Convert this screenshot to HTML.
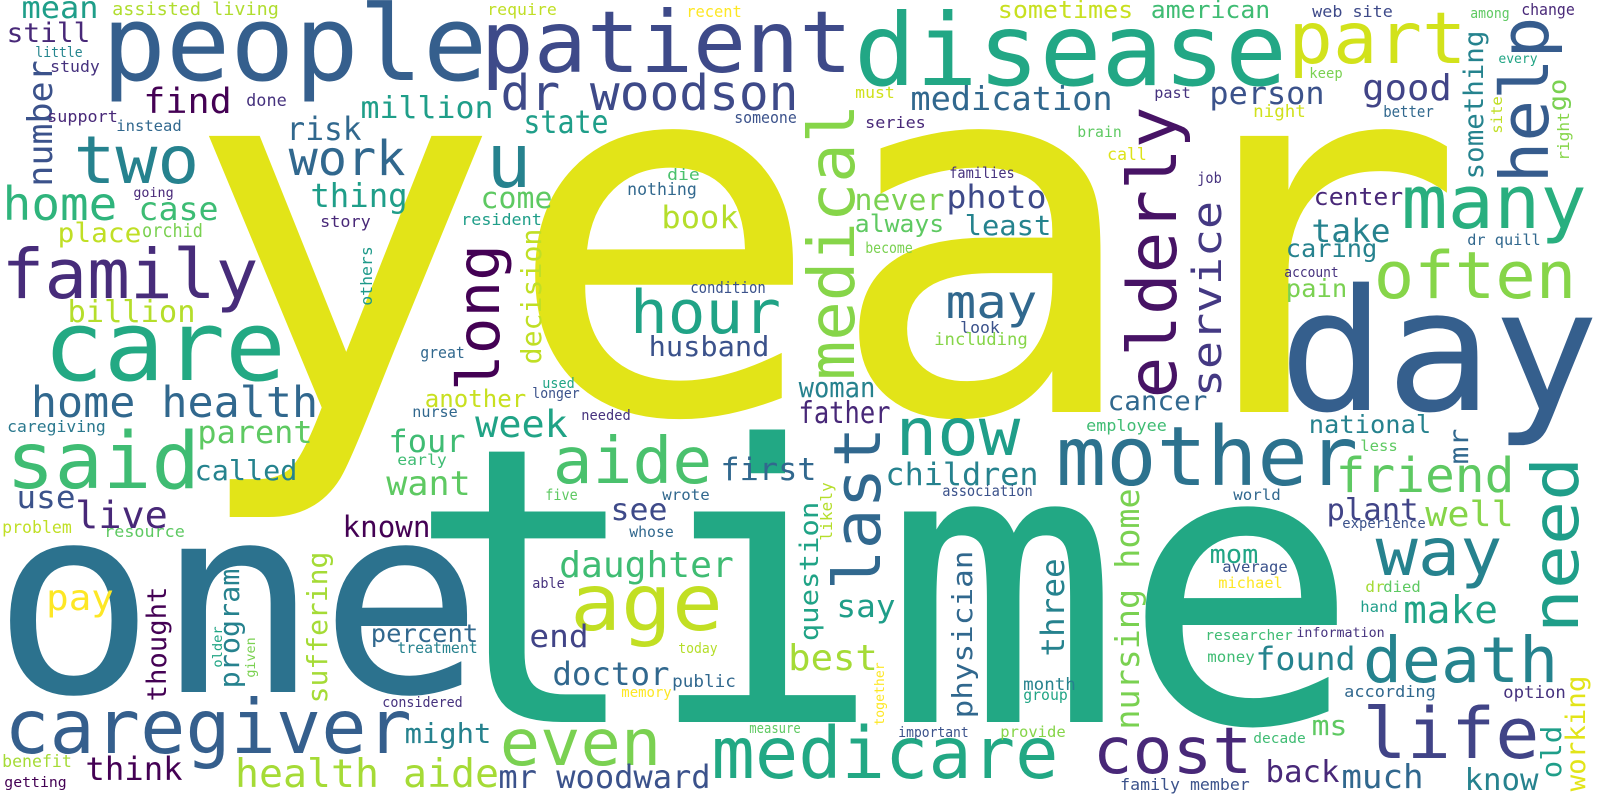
<!DOCTYPE html>
<html>
<head>
<meta charset="utf-8">
<style>
html,body{margin:0;padding:0;background:#fff;}
#chart{display:block;width:1600px;height:800px;background:#fff;}
text{font-family:"DejaVu Sans Mono","Liberation Mono",monospace;}
</style>
</head>
<body>
<svg id="chart" width="1600" height="800" viewBox="0 0 1600 800" xmlns="http://www.w3.org/2000/svg">
<rect x="0" y="0" width="1600" height="800" fill="#ffffff"/>
<g id="words"></g>
</svg>
<script>
// [word, fontSize, x(or baseline x if rotated), baseline y (or start y), inkLength, color, rotated]
const cloud = [
["year",505,207,412,1235,"#e2e418",0],
["time",385,425,722,916,"#22a884",0],
["one",262,5,692,465,"#2c728e",0],
["people",104,107,80,375,"#355f8d",0],
["patient",86,485,72,363,"#3e4a89",0],
["disease",100,859,85,423,"#22a785",0],
["part",71,1292,63,171,"#d2e21b",0],
["help",67,1548,180,160,"#365c8d",1],
["day",169,1287,410,304,"#355f8d",0],
["care",97,48,380,233,"#23a983",0],
["family",69,5,298,250,"#472c7a",0],
["two",66,77,183,119,"#26828e",0],
["hour",60,633,333,145,"#20a386",0],
["long",59,499,388,141,"#440154",1],
["decision",28,541,363,133,"#c0df25",1],
["others",16,372,305,58,"#1f9a8a",1],
["number",34,52,185,123,"#3b528b",1],
["mean",30,23,18,74,"#1f9e89",0],
["assisted living",18,113,15,165,"#b0dd2f",0],
["still",27,8,42,81,"#482878",0],
["little",14,36,57,46,"#25858e",0],
["study",16,51,72,48,"#46327e",0],
["find",35,145,113,85,"#440154",0],
["done",17,247,106,39,"#46327e",0],
["million",30,362,118,130,"#1f9e89",0],
["dr woodson",49,503,110,293,"#3e4a89",0],
["support",16,48,122,69,"#482878",0],
["instead",15,117,131,64,"#31688e",0],
["risk",32,288,140,72,"#31688e",0],
["state",32,525,133,82,"#1f9e89",0],
["someone",16,735,123,61,"#3b528b",0],
["work",48,291,175,112,"#31688e",0],
["u",75,490,187,0,"#26828e",0],
["home",46,5,220,110,"#2fb47c",0],
["case",32,140,220,77,"#3dbc74",0],
["going",13,134,197,39,"#482878",0],
["thing",33,312,207,94,"#1f9e89",0],
["come",29,482,208,69,"#5ec962",0],
["die",16,668,180,31,"#4ac16d",0],
["nothing",17,628,195,68,"#31688e",0],
["book",31,663,228,74,"#b5de2b",0],
["resident",16,462,225,79,"#1f9e89",0],
["story",16,321,227,49,"#482878",0],
["place",27,59,242,81,"#c0df25",0],
["orchid",19,143,237,59,"#7ad151",0],
["condition",16,691,293,74,"#3b528b",0],
["billion",30,69,322,125,"#b5de2b",0],
["husband",28,650,356,118,"#3b528b",0],
["great",16,421,358,43,"#31688e",0],
["used",14,543,388,31,"#21a585",0],
["longer",14,533,398,46,"#3b528b",0],
["home health",43,33,417,283,"#31688e",0],
["another",24,426,407,99,"#c8e020",0],
["nurse",15,413,417,44,"#31688e",0],
["needed",14,582,420,48,"#46327e",0],
["caregiving",16,8,432,97,"#2a788e",0],
["said",78,10,488,186,"#3fbc73",0],
["parent",31,199,443,112,"#5ec962",0],
["week",37,477,437,89,"#20a386",0],
["four",31,390,452,74,"#3fbc73",0],
["called",28,196,480,100,"#25838e",0],
["early",15,398,465,48,"#3fbc73",0],
["aide",64,556,483,153,"#4ac16d",0],
["first",31,722,480,93,"#31688e",0],
["want",34,388,495,81,"#5ec962",0],
["five",15,546,500,31,"#5ec962",0],
["wrote",15,663,500,46,"#31688e",0],
["use",31,18,508,56,"#3b528b",0],
["live",37,77,528,89,"#482878",0],
["problem",17,3,533,68,"#c0df25",0],
["resource",16,105,537,79,"#5ec962",0],
["see",30,612,520,54,"#3e4a89",0],
["known",29,344,537,85,"#440154",0],
["whose",15,630,537,43,"#31688e",0],
["daughter",36,561,577,171,"#3fbc73",0],
["able",14,533,588,31,"#46327e",0],
["age",78,574,630,145,"#c2df23",0],
["pay",36,48,610,64,"#fde725",0],
["thought",27,166,700,112,"#440154",1],
["program",28,239,687,117,"#26828e",1],
["older",13,222,667,40,"#21a585",1],
["given",13,255,677,39,"#7ad151",1],
["suffering",28,327,702,149,"#a5db36",1],
["percent",25,372,642,105,"#31688e",0],
["treatment",15,398,653,79,"#26828e",0],
["end",31,531,647,56,"#414487",0],
["today",14,679,653,38,"#b5de2b",0],
["doctor",32,554,685,114,"#31688e",0],
["public",17,673,687,62,"#31688e",0],
["memory",14,622,697,49,"#fde725",0],
["considered",14,383,707,79,"#46327e",0],
["caregiver",75,8,753,400,"#355f8d",0],
["might",28,406,743,84,"#26828e",0],
["measure",14,750,733,50,"#5ec962",0],
["even",64,503,765,155,"#7ad151",0],
["benefit",17,3,767,68,"#a5db36",0],
["think",32,87,780,94,"#440154",0],
["getting",14,5,787,61,"#440154",0],
["health aide",39,237,787,260,"#a5db36",0],
["mr woodward",32,500,788,209,"#3b528b",0],
["medicare",71,715,778,340,"#22a884",0],
["sometimes",24,999,18,133,"#c8e020",0],
["american",24,1152,18,117,"#3fbc73",0],
["web site",16,1313,17,79,"#3e4a89",0],
["among",14,1471,18,38,"#5ec962",0],
["change",16,1522,15,52,"#482878",0],
["recent",16,687,17,54,"#fde725",0],
["require",16,488,15,68,"#c0df25",0],
["every",13,1499,63,38,"#21a585",0],
["keep",14,1310,78,32,"#7ad151",0],
["something",27,1483,178,146,"#25838e",1],
["go",25,1566,110,30,"#7ad151",1],
["right",16,1569,160,47,"#86d549",1],
["site",15,1502,133,36,"#c0df25",1],
["medical",64,854,377,270,"#86d549",1],
["elderly",68,1176,395,285,"#471365",1],
["service",40,1221,395,192,"#443983",1],
["medication",33,912,110,199,"#31688e",0],
["must",16,856,98,38,"#d0e11c",0],
["past",15,1155,98,35,"#46327e",0],
["person",31,1211,104,112,"#3b528b",0],
["good",36,1364,100,86,"#414487",0],
["night",17,1254,117,51,"#d0e11c",0],
["better",16,1384,117,49,"#31688e",0],
["series",16,866,128,59,"#482878",0],
["brain",15,1078,137,43,"#5ec962",0],
["call",17,1108,160,38,"#dde318",0],
["families",15,950,178,64,"#46327e",0],
["job",15,1198,183,23,"#46327e",0],
["never",29,856,210,87,"#7ad151",0],
["photo",32,948,208,97,"#3e4a89",0],
["always",24,856,232,87,"#5ec962",0],
["least",28,966,235,84,"#25838e",0],
["center",24,1315,205,87,"#482878",0],
["many",74,1405,228,178,"#29af7f",0],
["take",32,1313,242,76,"#26828e",0],
["dr quill",15,1468,245,72,"#31688e",0],
["become",15,866,253,46,"#7ad151",0],
["caring",25,1287,257,89,"#26828e",0],
["often",65,1377,298,196,"#86d549",0],
["account",14,1285,277,53,"#46327e",0],
["pain",25,1287,297,59,"#7ad151",0],
["may",46,948,318,87,"#31688e",0],
["look",16,961,333,38,"#3b528b",0],
["including",17,935,345,92,"#86d549",0],
["woman",28,800,397,74,"#26828e",0],
["cancer",27,1109,410,97,"#31688e",0],
["father",30,800,423,89,"#482878",0],
["last",65,880,587,157,"#31688e",1],
["question",26,818,640,137,"#20a386",1],
["now",66,899,455,118,"#1f9e89",0],
["mother",82,1060,485,294,"#2c728e",0],
["national",25,1310,433,120,"#26828e",0],
["employee",16,1087,431,79,"#3fbc73",0],
["mr",27,1468,463,33,"#31688e",1],
["less",15,1361,451,36,"#5ec962",0],
["need",64,1578,630,170,"#1f9e89",1],
["friend",48,1338,492,174,"#5ec962",0],
["children",31,887,485,150,"#26828e",0],
["association",15,943,496,89,"#3b528b",0],
["likely",16,832,540,57,"#b5de2b",1],
["world",15,1234,500,46,"#31688e",0],
["plant",30,1328,520,89,"#414487",0],
["well",35,1427,526,85,"#86d549",0],
["experience",14,1343,528,82,"#3b528b",0],
["physician",28,972,717,165,"#31688e",1],
["three",32,1064,655,95,"#26828e",1],
["nursing home",33,1139,728,238,"#7ad151",1],
["way",66,1379,575,120,"#26828e",0],
["say",31,838,617,56,"#1f9e89",0],
["mom",26,1211,563,46,"#21a585",0],
["average",15,1223,572,64,"#3b528b",0],
["michael",15,1219,588,63,"#fde725",0],
["dr",15,1366,592,18,"#a5db36",0],
["died",15,1384,592,36,"#5ec962",0],
["hand",15,1361,612,36,"#1f9e89",0],
["make",38,1405,623,91,"#20a386",0],
["best",36,790,670,86,"#a5db36",0],
["researcher",14,1206,640,86,"#3fbc73",0],
["information",13,1297,637,87,"#46327e",0],
["together",13,884,725,62,"#fde725",1],
["found",32,1257,670,97,"#25838e",0],
["money",15,1208,662,46,"#3fbc73",0],
["death",63,1366,682,189,"#25838e",0],
["month",17,1024,690,51,"#26828e",0],
["group",15,1024,700,43,"#21a585",0],
["according",16,1345,697,90,"#31688e",0],
["option",17,1504,698,61,"#46327e",0],
["working",27,1585,790,113,"#e2e418",1],
["old",28,1561,777,50,"#1f9e89",1],
["ms",28,1313,735,33,"#5ec962",0],
["important",14,899,737,69,"#3b528b",0],
["provide",15,1001,737,64,"#86d549",0],
["decade",14,1254,743,51,"#3fbc73",0],
["life",70,1366,758,170,"#414487",0],
["cost",64,1096,773,153,"#482878",0],
["back",30,1267,782,71,"#482878",0],
["much",33,1343,788,79,"#31688e",0],
["know",30,1466,790,71,"#26828e",0],
["family member",16,1121,790,128,"#3b528b",0]
];

const NS = "http://www.w3.org/2000/svg";
const g = document.getElementById("words");
cloud.forEach(function (d) {
  const word = d[0], fs = d[1], x = d[2], y = d[3], w = d[4], col = d[5], rot = d[6];
  const t = document.createElementNS(NS, "text");
  t.textContent = word;
  t.setAttribute("font-size", fs);
  t.setAttribute("fill", col);
  const pad = 0.05 * fs;
  if (rot) {
    t.setAttribute("x", 0);
    t.setAttribute("y", 0);
    t.setAttribute("transform", "translate(" + x + "," + (y + pad) + ") rotate(-90)");
  } else {
    t.setAttribute("x", x - pad);
    t.setAttribute("y", y);
  }
  if (w > 0) {
    t.setAttribute("textLength", w + 2 * pad);
    t.setAttribute("lengthAdjust", "spacingAndGlyphs");
  }
  
  
  g.appendChild(t);
});
</script>
</body>
</html>
